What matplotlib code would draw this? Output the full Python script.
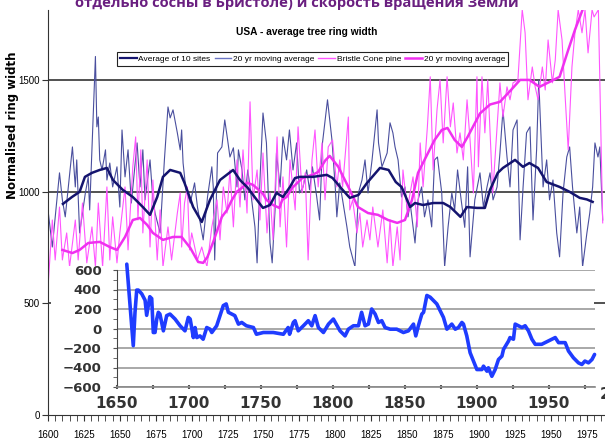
import matplotlib
matplotlib.use('Agg')
import matplotlib.pyplot as plt
from matplotlib.lines import Line2D

plt.rcParams['font.family'] = ['Liberation Sans', 'DejaVu Sans']
NARROW = ['Liberation Sans Narrow', 'Liberation Sans', 'DejaVu Sans']

# ---- tree rings: average of 10 US sites (annual) ----
avg_years = [1600, 1603, 1608, 1610, 1612, 1617, 1619, 1620, 1622, 1626, 1628, 1629, 1633, 1634,
             1635, 1636, 1637.6, 1640, 1641, 1643, 1645, 1648, 1650, 1651.5, 1653.6, 1655.7, 1658,
             1662, 1664, 1666, 1667.5, 1671, 1673, 1674.5, 1678, 1681, 1683.5, 1685, 1687, 1690,
             1692, 1693, 1694, 1696, 1699, 1702, 1704, 1708, 1711, 1714, 1715, 1716, 1718, 1721,
             1723, 1725, 1726.6, 1729, 1731.5, 1732.5, 1735, 1737, 1739, 1742, 1744, 1745.5, 1747.5,
             1749.6, 1752, 1754.5, 1756, 1758, 1759, 1761.5, 1763.5, 1766, 1768, 1770.5, 1773, 1775,
             1777.5, 1780, 1782, 1784, 1787, 1789, 1791, 1794.5, 1797.6, 1800, 1801, 1803, 1805,
             1808, 1810, 1813.6, 1816, 1818.5, 1820.6, 1822.7, 1825.5, 1829, 1830, 1832.4, 1836,
             1838, 1840, 1841.5, 1843.6, 1846, 1848.4, 1850.5, 1852, 1854, 1855.4, 1857.5, 1860,
             1862, 1864.4, 1867, 1869, 1871, 1874, 1876, 1878.4, 1881, 1883, 1885, 1887.5, 1890,
             1892, 1893.7, 1897, 1900.6, 1903, 1905.5, 1907.6, 1909.7, 1912.5, 1914.5, 1916.6,
             1919.4, 1921.5, 1923.6, 1926.4, 1928.5, 1930.6, 1933, 1935.4, 1937.5, 1940, 1941.5,
             1944.5, 1947, 1949, 1951.4, 1954, 1956, 1958.4, 1961, 1963, 1965, 1968, 1970, 1972,
             1975, 1977, 1979, 1980.6, 1982.7, 1984, 1986]
avg_vals = [918, 752, 1084, 963, 887, 1200, 1021, 1142, 815, 994, 1066, 918, 1605, 1290,
            1334, 1142, 1097, 1187, 1052, 1128, 1021, 1111, 931, 1276, 1066, 1187, 949,
            1218, 1021, 1187, 963, 1142, 963, 904, 815, 1142, 1379, 1330, 1366, 1263,
            1187, 1276, 1128, 1008, 949, 1039, 931, 784, 976, 1111, 1021, 694, 1173, 1200,
            1321, 1231, 1155, 1196, 1021, 1187, 1097, 963, 1097, 949, 842, 681, 1052,
            1352, 1218, 770, 681, 918, 1173, 1021, 1245, 1142, 1276, 1097, 1218, 994,
            1021, 1097, 1008, 1111, 976, 873, 1218, 1411, 1231, 1008, 887, 1039, 963,
            842, 752, 663, 994, 1052, 1142, 994, 1142, 1366, 1218, 1111, 1173,
            1308, 1263, 1200, 1142, 976, 1021, 887, 949, 842, 770, 963, 1021,
            887, 963, 842, 1142, 1155, 994, 663, 842, 994, 918, 1097, 963, 840,
            1111, 708, 963, 1084, 931, 1021, 1084, 963, 1021, 1173, 1366,
            1155, 1021, 1276, 1321, 784, 1021, 1263, 1290, 873, 1187, 1500,
            1021, 1142, 963, 1052, 815, 708, 994, 1155, 1200, 1021, 815, 931, 663,
            815, 904, 1021, 1218, 1155, 1200, 873]

avg_ma_years = [1610.4, 1616.7, 1622, 1625.7, 1630.6, 1636, 1641, 1645.2, 1652, 1659, 1666, 1671,
                1676, 1680, 1685, 1692, 1695, 1701, 1707, 1712.7, 1719.7, 1728.8, 1733.6, 1739,
                1742.7, 1749.6, 1754.5, 1759, 1763.5, 1768.4, 1771.9, 1775.4, 1784.4, 1794, 1798,
                1805, 1810, 1816, 1822, 1831, 1837, 1842, 1846, 1852, 1855.4, 1861, 1868, 1875,
                1880, 1887, 1891.5, 1898.5, 1904, 1907.6, 1913, 1916.6, 1925, 1930.5, 1935, 1941,
                1947, 1956, 1963, 1970, 1975, 1979]
avg_ma_vals = [945, 976, 999, 1066, 1084, 1097, 1106, 1052, 1008, 976, 931, 896,
               976, 1066, 1097, 1084, 1039, 931, 864, 963, 1052, 1097, 1052, 1017,
               985, 927, 940, 994, 976, 1021, 1061, 1066, 1066, 1075, 1061,
               1008, 972, 985, 1039, 1106, 1097, 1043, 1021, 931, 949, 940, 949, 949,
               931, 887, 931, 927, 927, 1008, 1084, 1106, 1142, 1111, 1128, 1106,
               1043, 1021, 999, 972, 965, 954]

# ---- Bristle Cone pine ----
bcp_years = [1600, 1603, 1605, 1608, 1610, 1613, 1615, 1619, 1621, 1624, 1627, 1630.6, 1633, 1635,
             1638, 1641, 1643, 1645, 1648, 1650, 1653.6, 1655.7, 1659, 1661, 1662.6, 1664.6, 1666,
             1669, 1671, 1673, 1676, 1678, 1680, 1683.5, 1686, 1690, 1692, 1693, 1695, 1697,
             1698.5, 1700, 1704, 1707, 1710.6, 1714, 1717.6, 1719.7, 1722, 1724.6, 1726.6, 1729,
             1731.5, 1733.6, 1735.7, 1738.5, 1740.6, 1742.7, 1745.5, 1747.5, 1749.6, 1752.4,
             1754.5, 1756.6, 1759.4, 1761.5, 1763.5, 1766, 1768.4, 1772, 1774, 1776.8, 1779, 1781,
             1783.7, 1785.8, 1788, 1790.7, 1792.8, 1795, 1798, 1801, 1803, 1805, 1809, 1810, 1812,
             1815, 1817, 1819, 1822, 1824, 1826, 1829.6, 1833, 1836, 1838, 1840, 1843, 1845, 1847,
             1850, 1852, 1854, 1857, 1859, 1861, 1864, 1866, 1868, 1870.7, 1872.8, 1875, 1877.7,
             1880, 1882, 1884.6, 1886.7, 1889, 1891.6, 1893.7, 1896, 1898.5, 1899.5, 1902, 1904,
             1906, 1909.5, 1912.5, 1914.5, 1916.6, 1919.4, 1921.5, 1923.6, 1927, 1930, 1932, 1934,
             1937, 1939, 1941, 1944, 1946, 1948, 1951, 1953, 1955, 1957.7, 1960, 1962, 1964.6,
             1966.7, 1969, 1971.6, 1973.7, 1975.8, 1978.6, 1980, 1983, 1986]
bcp_vals = [569, 873, 694, 931, 694, 815, 663, 873, 694, 949, 681, 842, 663, 949,
            663, 1021, 694, 887, 681, 815, 1021, 739, 1111, 1245, 873, 1187, 815,
            1142, 752, 1052, 694, 918, 663, 842, 694, 904, 994, 752, 949, 1021,
            739, 815, 694, 752, 663, 842, 963, 784, 1021, 904, 1097, 842,
            1142, 931, 1187, 904, 1402, 963, 1097, 873, 1173, 815,
            994, 784, 1245, 842, 1066, 752, 1142, 918, 1290, 994, 1084, 694,
            1142, 1276, 1021, 1218, 963, 1200, 1231, 1021, 1142, 1021, 1334, 918, 963,
            815, 904, 752, 873, 784, 931, 752, 918, 681, 873, 663, 842, 694, 1097,
            918, 994, 1066, 842, 1218, 1021, 1290, 1514, 1097, 1366, 1500, 1218, 1514,
            1290, 1397, 1173, 1263, 1142, 1411, 1231, 994, 1514, 1111, 1514, 1263,
            1500, 994, 1290, 1487, 1334, 1469, 1411, 1487, 1500, 1814, 1711, 1411,
            1558, 1469, 1411, 1558, 1455, 1679, 1487, 1590, 1814, 1679, 1411, 1187, 1558,
            1711, 1814, 1711, 1814, 1621, 1814, 1782, 1814, 860]

bcp_ma_years = [1610, 1617, 1622, 1628, 1636, 1643, 1648, 1653.6, 1659, 1664, 1669, 1673, 1680,
                1687, 1693, 1699, 1704.5, 1708, 1711, 1715, 1721, 1724.6, 1728, 1731.5, 1735,
                1738.5, 1742.7, 1745, 1749.6, 1752, 1756.6, 1761, 1763, 1766, 1770, 1777, 1784,
                1788, 1793, 1796, 1802, 1809, 1815.7, 1822.7, 1829.6, 1836.6, 1843, 1848.4,
                1853.3, 1857.5, 1862, 1869, 1874, 1878, 1883, 1888, 1892, 1900.6, 1907.6,
                1914.5, 1921.5, 1928.5, 1935, 1942, 1949, 1956, 1962, 1966.7, 1972, 1976]
bcp_ma_vals = [739, 725, 739, 770, 775, 752, 739, 797, 873, 882, 851, 815, 784,
               797, 797, 748, 685, 681, 708, 775, 887, 918, 963, 1000, 1017,
               1040, 1030, 1017, 990, 963, 940, 927, 963, 976, 1017, 1061, 1075,
               1088, 1140, 1160, 1111, 1021, 931, 904, 896, 873, 860, 873,
               963, 1084, 1142, 1231, 1276, 1285, 1231, 1200, 1245, 1350, 1390,
               1402, 1450, 1500, 1500, 1469, 1491, 1514, 1634, 1724, 1814, 1900]

# ---- inset: Earth rotation (length of day anomaly) ----
lod_years = [1657, 1658, 1659.7, 1661.5, 1662.7, 1663.9, 1665, 1667.4, 1669.7, 1670.8, 1672, 1673,
             1674.3, 1675.4, 1676.6, 1677.8, 1678.9, 1680, 1682.4, 1684.7, 1687, 1690.5, 1694,
             1697.4, 1699.7, 1701, 1703.2, 1704.4, 1705.6, 1707.8, 1710, 1712.5, 1714.8, 1716,
             1719.4, 1721.7, 1724, 1726, 1727.5, 1729.9, 1732, 1734.5, 1736.8, 1740, 1744.9,
             1747, 1751.8, 1758.7, 1765.7, 1769, 1770, 1772.6, 1773.8, 1776, 1779.6, 1783,
             1785.4, 1787.7, 1790, 1793.5, 1797, 1800.4, 1805, 1808.5, 1810.8, 1814.3, 1817.8,
             1820, 1822.4, 1824.7, 1827, 1829.4, 1831.7, 1834, 1836.3, 1839.8, 1844.4, 1849,
             1852.5, 1856, 1857.6, 1859.4, 1861.8, 1863, 1865.3, 1867.6, 1869.9, 1872.2, 1874.5,
             1876.8, 1879.2, 1882.6, 1885, 1887.2, 1889.6, 1890.7, 1893, 1895.3, 1897.6, 1900,
             1903.5, 1904.6, 1907, 1908, 1910.4, 1912.7, 1915, 1917.4, 1918.5, 1922, 1923,
             1925.4, 1926.6, 1928.9, 1931.3, 1933.5, 1935.8, 1938.2, 1940.5, 1945, 1954.4,
             1956.7, 1961.3, 1963.6, 1967, 1970.5, 1972.9, 1975, 1977.5, 1979.9, 1981.7]
lod_vals = [660, 477, 166, -176, 166, 394, 394, 355, 290, 135, 238, 326,
            307, -41, -41, 97, 166, 148, -24, 132, 148, 97, 28,
            -24, 114, 97, -93, 10, -93, -76, -110, 10, -7, -41,
            28, 132, 235, 252, 166, 148, 132, 45, 62, 28, 10,
            -59, -41, -41, -59, 10, -59, 62, 80, -24, 28, 80,
            28, 132, 10, -41, 45, 97, -24, -76, -7, 28, 28,
            166, 28, 45, 200, 148, 62, 80, 10, -7, -7, -41,
            -24, 45, -76, 28, 148, 166, 339, 321, 287, 252, 183,
            114, -7, 45, -7, 10, 62, 45, -76, -248, -334, -421,
            -421, -386, -438, -403, -490, -421, -318, -283, -214, -128, -93,
            -110, 45, 28, 10, 28, -24, -110, -162, -162, -93,
            -145, -145, -231, -300, -352, -369, -334, -352, -318, -266]

main_xticks = list(range(1600, 1976, 25))
inset_xticks = list(range(1650, 1951, 50))
inset_yticks = list(range(-600, 601, 200))

W, H = 605, 441


def box(x0, y0, x1, y1):
    # pixel box measured from the top-left corner -> figure fraction
    return [x0 / W, 1 - y1 / H, (x1 - x0) / W, (y1 - y0) / H]


fig = plt.figure(figsize=(W / 100, H / 100), dpi=100)

# main tree ring chart
ax = fig.add_axes(box(48, 10, 605, 415))
ax.set_xlim(1600, 1987.6)
ax.set_ylim(0, 1813)
for v in (500, 1000, 1500):
    ax.axhline(v, color='#222222', lw=1.1, zorder=1)
ax.plot(avg_years, avg_vals, color='#4a4f9e', lw=0.8, zorder=2)
ax.plot(bcp_years, bcp_vals, color='#ff55ff', lw=0.8, zorder=2.1)
ax.plot(bcp_ma_years, bcp_ma_vals, color='#f030f0', lw=1.8, zorder=3)
ax.plot(avg_ma_years, avg_ma_vals, color='#14146e', lw=1.8, zorder=3.1)
for s in ('top', 'right'):
    ax.spines[s].set_visible(False)
ax.spines['left'].set_color('#333333')
ax.spines['bottom'].set_color('#333333')
ax.set_xticks(main_xticks)
ax.set_xticks(range(1600, 1986, 5), minor=True)
ax.set_yticks([0, 500, 1000, 1500])
ax.tick_params(axis='x', which='both', direction='out', length=4, color='#333333')
ax.tick_params(axis='x', pad=7, labelsize=7)
ax.tick_params(axis='y', direction='out', length=4, pad=2, labelsize=7, color='#333333')
for lbl in ax.get_xticklabels() + ax.get_yticklabels():
    lbl.set_family(NARROW)

fig.text(13 / W, 1 - 125 / H, 'Normalised ring width', rotation=90, ha='center', va='center',
         fontsize=8.5, fontweight='bold', family=['DejaVu Sans'])
fig.text(307 / W, 1 - 32 / H, 'USA - average tree ring width', ha='center', va='center',
         fontsize=7.3, fontweight='bold')

handles = [Line2D([], [], color='#14146e', lw=1.6),
           Line2D([], [], color='#6a74c4', lw=1.0),
           Line2D([], [], color='#ff55ff', lw=1.0),
           Line2D([], [], color='#f030f0', lw=1.8)]
labels = ['Average of 10 sites', '20 yr moving average', 'Bristle Cone pine', '20 yr moving average']
leg = fig.legend(handles, labels, loc='upper left', bbox_to_anchor=(117 / W, 1 - 52 / H), ncol=4,
                 fancybox=False, edgecolor='#222222', framealpha=1, borderpad=0.35,
                 borderaxespad=0, handlelength=2.0, handletextpad=0.2, columnspacing=0.5,
                 prop={'family': NARROW, 'size': 6})
leg.get_frame().set_linewidth(0.8)

# white patch the inset picture sits on
mask = fig.add_axes(box(51, 266, 594, 412), zorder=2)
mask.set_facecolor('white')
mask.set_xticks([])
mask.set_yticks([])
for s in mask.spines.values():
    s.set_visible(False)

# inset: rotation of the Earth
ax2 = fig.add_axes(box(116.7, 270, 595, 387), zorder=3)
ax2.patch.set_alpha(0)
ax2.set_xlim(1650, 1982)
ax2.set_ylim(-600, 600)
ax2.set_yticks(inset_yticks)
ax2.set_yticks(range(-600, 601, 100), minor=True)
ax2.grid(axis='y', color='#9a9a9a', lw=1.2)
ax2.set_axisbelow(True)
ax2.plot(lod_years, lod_vals, color='#1f3cff', lw=2.6, clip_on=False, solid_capstyle='round')
for s in ('top', 'right'):
    ax2.spines[s].set_visible(False)
ax2.spines['left'].set_color('#444444')
ax2.spines['bottom'].set_color('#888888')
ax2.spines['bottom'].set_linewidth(1.2)
ax2.set_xticks(inset_xticks)
ax2.set_xticks(range(1675, 1981, 25), minor=True)
ax2.tick_params(axis='x', which='both', direction='inout', length=3, width=1.5, color='#555555')
ax2.tick_params(axis='x', pad=5, labelsize=11, labelcolor='#333333')
ax2.tick_params(axis='y', which='both', direction='out', length=3, color='#555555')
ax2.tick_params(axis='y', pad=8, labelsize=9.5, labelcolor='#333333')
for lbl in ax2.get_xticklabels() + ax2.get_yticklabels():
    lbl.set_fontweight('bold')
    lbl.set_family(['DejaVu Sans'])
for t in ax2.yaxis.get_major_ticks():
    t.label1.set_clip_box(mask.bbox)
    t.label1.set_clip_on(True)
ax2.text(2000, -600, '2000', transform=ax2.transData, ha='center', va='top', fontsize=11,
         fontweight='bold', color='#333333', family=['DejaVu Sans'], clip_on=False)

fig.text(297 / W, 1 - 7 / H, 'отдельно сосны в Бристоле) и скорость вращения Земли',
         ha='center', va='baseline', fontsize=10.6, fontweight='bold', color='#6a1f80',
         family=['Open Sans', 'DejaVu Sans'])

fig.savefig('out.png', dpi=100)
